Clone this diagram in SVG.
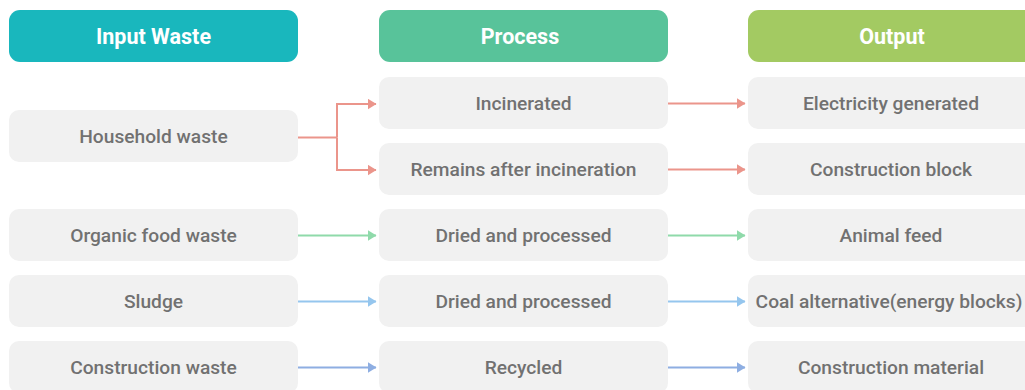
<svg xmlns="http://www.w3.org/2000/svg" width="1025" height="390" viewBox="0 0 1025 390">
<defs>
<style>
.hdr{rx:11;ry:11}
.box{fill:#f1f1f1;rx:10;ry:10}
.ht{font-family:Roboto,"Liberation Sans",sans-serif;font-weight:700;font-size:21.5px;fill:#ffffff;text-anchor:middle}
.bt{font-family:Roboto,"Liberation Sans",sans-serif;font-weight:500;font-size:19.2px;fill:#717171;text-anchor:middle}
.c{fill:none;stroke-width:2}
.red{stroke:#eb958b}
.grn{stroke:#8fdaaa}
.lb{stroke:#95c6ee}
.db{stroke:#8eaee2}
</style>
<marker id="aR" viewBox="0 0 9 11" refX="8.5" refY="5.5" markerWidth="9" markerHeight="11" orient="auto" markerUnits="userSpaceOnUse"><path d="M0,0L9,5.5L0,11z" fill="#eb958b"/></marker>
<marker id="aG" viewBox="0 0 9 11" refX="8.5" refY="5.5" markerWidth="9" markerHeight="11" orient="auto" markerUnits="userSpaceOnUse"><path d="M0,0L9,5.5L0,11z" fill="#8fdaaa"/></marker>
<marker id="aL" viewBox="0 0 9 11" refX="8.5" refY="5.5" markerWidth="9" markerHeight="11" orient="auto" markerUnits="userSpaceOnUse"><path d="M0,0L9,5.5L0,11z" fill="#95c6ee"/></marker>
<marker id="aD" viewBox="0 0 9 11" refX="8.5" refY="5.5" markerWidth="9" markerHeight="11" orient="auto" markerUnits="userSpaceOnUse"><path d="M0,0L9,5.5L0,11z" fill="#8eaee2"/></marker>
</defs>
<rect width="1025" height="390" fill="#ffffff"/>
<g id="hdr-input"><rect class="hdr" x="9" y="10" width="289" height="52" fill="#19b7bd"/><text class="ht" x="153.5" y="43.5">Input Waste</text></g>
<g id="hdr-process"><rect class="hdr" x="379" y="10" width="289" height="52" fill="#58c39a"/><text class="ht" x="520" y="43.5">Process</text></g>
<g id="hdr-output"><rect class="hdr" x="748" y="10" width="289" height="52" fill="#a3ca62"/><text class="ht" x="892" y="43.5">Output</text></g>

<g id="in-household"><rect class="box" x="9" y="110" width="289" height="52"/><text class="bt" x="153.5" y="143">Household waste</text></g>
<g id="in-organic"><rect class="box" x="9" y="209" width="289" height="52"/><text class="bt" x="153.5" y="242">Organic food waste</text></g>
<g id="in-sludge"><rect class="box" x="9" y="275" width="289" height="52"/><text class="bt" x="153.5" y="308">Sludge</text></g>
<g id="in-construction"><rect class="box" x="9" y="341" width="289" height="52"/><text class="bt" x="153.5" y="374">Construction waste</text></g>

<g id="p-incinerated"><rect class="box" x="379" y="77" width="289" height="52"/><text class="bt" x="523.5" y="110">Incinerated</text></g>
<g id="p-remains"><rect class="box" x="379" y="143" width="289" height="52"/><text class="bt" x="523.5" y="176">Remains after incineration</text></g>
<g id="p-dried1"><rect class="box" x="379" y="209" width="289" height="52"/><text class="bt" x="523.5" y="242">Dried and processed</text></g>
<g id="p-dried2"><rect class="box" x="379" y="275" width="289" height="52"/><text class="bt" x="523.5" y="308">Dried and processed</text></g>
<g id="p-recycled"><rect class="box" x="379" y="341" width="289" height="52"/><text class="bt" x="523.5" y="374">Recycled</text></g>

<g id="o-electricity"><rect class="box" x="748" y="77" width="289" height="52"/><text class="bt" x="891" y="110">Electricity generated</text></g>
<g id="o-block"><rect class="box" x="748" y="143" width="289" height="52"/><text class="bt" x="891" y="176">Construction block</text></g>
<g id="o-feed"><rect class="box" x="748" y="209" width="289" height="52"/><text class="bt" x="891" y="242">Animal feed</text></g>
<g id="o-coal"><rect class="box" x="748" y="275" width="289" height="52"/><text class="bt" x="889" y="308">Coal alternative(energy blocks)</text></g>
<g id="o-material"><rect class="box" x="748" y="341" width="289" height="52"/><text class="bt" x="891" y="374">Construction material</text></g>

<g id="connectors">
<path class="c red" d="M298,137.5H337"/>
<path class="c red" d="M337,137.5V104H376" marker-end="url(#aR)"/>
<path class="c red" d="M337,137.5V170H376" marker-end="url(#aR)"/>
<path class="c red" d="M668,103.5H745" marker-end="url(#aR)"/>
<path class="c red" d="M668,169.5H745" marker-end="url(#aR)"/>
<path class="c grn" d="M298,235.5H376" marker-end="url(#aG)"/>
<path class="c grn" d="M668,235.5H745" marker-end="url(#aG)"/>
<path class="c lb" d="M298,301.5H376" marker-end="url(#aL)"/>
<path class="c lb" d="M668,301.5H745" marker-end="url(#aL)"/>
<path class="c db" d="M298,367.5H376" marker-end="url(#aD)"/>
<path class="c db" d="M668,367.5H745" marker-end="url(#aD)"/>
</g>
</svg>
